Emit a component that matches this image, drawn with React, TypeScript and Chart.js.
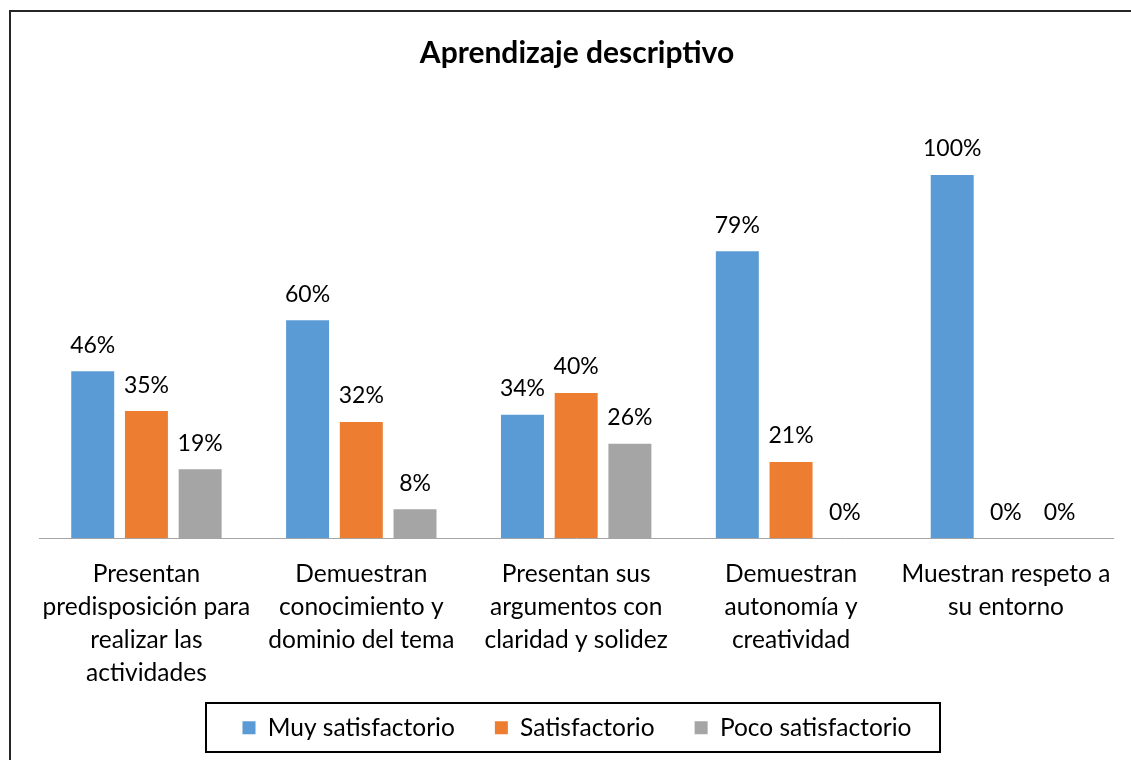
import React, { useEffect, useRef } from "react";
import { Chart, registerables } from "chart.js";

Chart.register(...registerables);

const chartTitle = "Aprendizaje descriptivo";
const categories: string[][] = [
  ["Presentan", "predisposición para", "realizar las", "actividades"],
  ["Demuestran", "conocimiento y", "dominio del tema"],
  ["Presentan sus", "argumentos con", "claridad y solidez"],
  ["Demuestran", "autonomía y", "creatividad"],
  ["Muestran respeto a", "su entorno"],
];
const seriesNames = ["Muy satisfactorio", "Satisfactorio", "Poco satisfactorio"];
const muySatisfactorio = [46, 60, 34, 79, 100];
const satisfactorio = [35, 32, 40, 21, 0];
const pocoSatisfactorio = [19, 8, 26, 0, 0];
const seriesColors = ["#5B9BD5", "#ED7D31", "#A5A5A5"];

const FONT = "Lato, 'Open Sans', sans-serif";

const frameAndLabels = {
  id: "frameAndLabels",
  beforeDraw(chart: any) {
    const xs = chart.scales && chart.scales.x;
    if (xs) xs._computeLabelArea = () => undefined;
    const ctx = chart.ctx;
    ctx.save();
    ctx.fillStyle = "#ffffff";
    ctx.fillRect(0, 0, chart.width, chart.height);
    ctx.fillStyle = "#262626";
    ctx.fillRect(9, 10, chart.width - 9, 2);
    ctx.fillRect(9, 10, 2, chart.height - 10);
    ctx.restore();
  },
  afterDatasetsDraw(chart: any) {
    const ctx = chart.ctx;
    ctx.save();
    ctx.font = `23px ${FONT}`;
    ctx.fillStyle = "#000000";
    ctx.textAlign = "center";
    ctx.textBaseline = "middle";
    chart.data.datasets.forEach((ds: any, di: number) => {
      const meta = chart.getDatasetMeta(di);
      meta.data.forEach((el: any, i: number) => {
        ctx.fillText(`${ds.data[i]}%`, el.x, el.y - 26);
      });
    });
    ctx.restore();
  },
  afterDraw(chart: any) {
    const legend = chart.legend;
    if (!legend || !legend.legendHitBoxes || !legend.legendHitBoxes.length) return;
    const boxes = legend.legendHitBoxes;
    let left = Infinity, right = -Infinity, top = Infinity, bottom = -Infinity;
    boxes.forEach((b: any) => {
      left = Math.min(left, b.left);
      right = Math.max(right, b.left + b.width);
      top = Math.min(top, b.top);
      bottom = Math.max(bottom, b.top + b.height);
    });
    const cy = (top + bottom) / 2;
    const ctx = chart.ctx;
    ctx.save();
    ctx.strokeStyle = "#000000";
    ctx.lineWidth = 2;
    ctx.strokeRect(Math.round(left - 37), Math.round(cy - 24.5), Math.round(right - left + 65), 49);
    ctx.restore();
  },
};

export default function App() {
  const ref = useRef<HTMLCanvasElement | null>(null);
  useEffect(() => {
    document.body.style.margin = "0";
    document.body.style.overflow = "hidden";
    if (!ref.current) return;
    const chart = new Chart(ref.current, {
      type: "bar",
      data: {
        labels: categories,
        datasets: [
          { label: seriesNames[0], data: muySatisfactorio, backgroundColor: seriesColors[0] },
          { label: seriesNames[1], data: satisfactorio, backgroundColor: seriesColors[1] },
          { label: seriesNames[2], data: pocoSatisfactorio, backgroundColor: seriesColors[2] },
        ],
      },
      options: {
        animation: false,
        responsive: false,
        devicePixelRatio: 1,
        layout: { padding: { left: 39, right: 16, top: 0, bottom: 10 } },
        datasets: { bar: { categoryPercentage: 0.75, barPercentage: 0.8 } },
        scales: {
          x: {
            grid: { display: false, drawTicks: false },
            border: { display: true, color: "#A6A6A6", width: 1 },
            ticks: {
              color: "#000000",
              font: { family: FONT, size: 24.5, lineHeight: 1.35 },
              padding: 19,
              maxRotation: 0,
              autoSkip: false,
            },
            afterFit(scale: any) {
              scale.height = scale.height - 33;
            },
          },
          y: { display: false, min: 0, max: 100 },
        },
        plugins: {
          title: {
            display: true,
            text: chartTitle,
            color: "#000000",
            font: { family: FONT, size: 30, weight: "bold", lineHeight: 1.2 },
            padding: { top: 35, bottom: 104 },
          },
          legend: {
            position: "bottom",
            labels: {
              color: "#000000",
              font: { family: FONT, size: 24.5, lineHeight: 1.2 },
              boxWidth: 13,
              boxHeight: 13,
              padding: 40,
            },
          },
          tooltip: { enabled: false },
        },
      },
      plugins: [frameAndLabels],
    });
    return () => chart.destroy();
  }, []);
  return <canvas ref={ref} width={1131} height={760} style={{ display: "block" }} />;
}
